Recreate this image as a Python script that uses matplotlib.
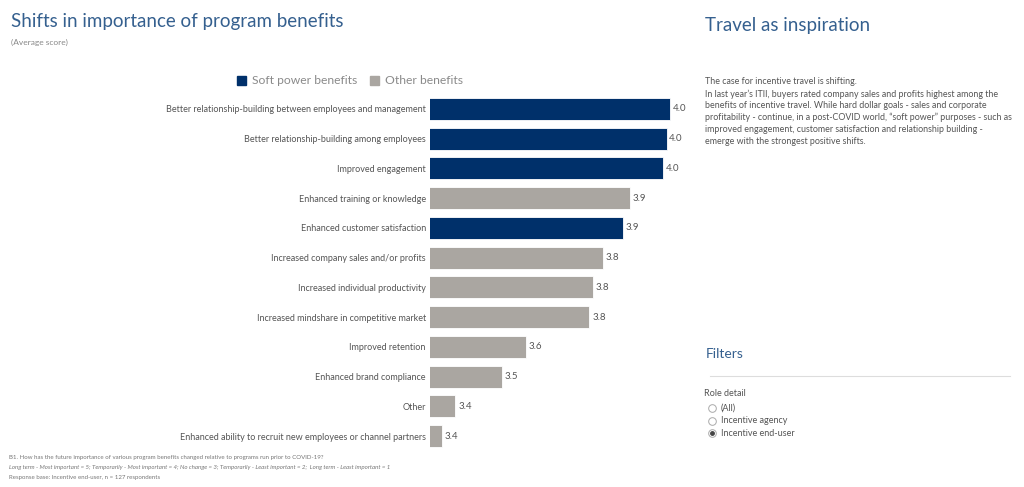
import matplotlib.pyplot as plt
from matplotlib.patches import Patch
from matplotlib.lines import Line2D

plt.rcParams['font.family'] = ['Lato', 'DejaVu Sans']

benefits = [
    "Better relationship-building between employees and management",
    "Better relationship-building among employees",
    "Improved engagement",
    "Enhanced training or knowledge",
    "Enhanced customer satisfaction",
    "Increased company sales and/or profits",
    "Increased individual productivity",
    "Increased mindshare in competitive market",
    "Improved retention",
    "Enhanced brand compliance",
    "Other",
    "Enhanced ability to recruit new employees or channel partners",
]
scores = [4.04, 4.03, 4.02, 3.92, 3.90, 3.84, 3.81, 3.80, 3.61, 3.54, 3.40, 3.36]
soft_power = [True, True, True, False, True, False, False, False, False, False, False, False]

navy = '#00306a'
grey = '#aaa6a1'
text_grey = '#555555'
title_blue = '#35608f'

fig = plt.figure(figsize=(10.24, 4.87), dpi=100)
ax = fig.add_axes([430 / 1024, 1 - 451 / 487, 260 / 1024, 357 / 487])

y = list(range(len(benefits)))
colors = [navy if s else grey for s in soft_power]
ax.barh(y, scores, height=0.74, color=colors, edgecolor='white', linewidth=0.6)
for yi, v in zip(y, scores):
    ax.text(v + 0.008, yi, f"{v:.1f}", va='center', ha='left', fontsize=7, color=text_grey)

ax.set_xlim(3.324, 4.10)
ax.set_ylim(len(benefits) - 0.5, -0.5)
ax.set_yticks(y)
ax.set_yticklabels(benefits, fontsize=6.5, color=text_grey)
ax.tick_params(axis='y', length=0, pad=3)
ax.set_xticks([])
for s in ax.spines.values():
    s.set_visible(False)

# titles
fig.text(11 / 1024, 1 - 21 / 487, "Shifts in importance of program benefits",
         fontsize=13.5, color=title_blue, va='center', ha='left')
fig.text(11 / 1024, 1 - 42 / 487, "(Average score)", fontsize=6, color='#888888',
         va='center', ha='left')

handles = [Patch(color=navy), Patch(color=grey)]
fig.legend(handles, ["Soft power benefits", "Other benefits"], loc='center',
           bbox_to_anchor=(350 / 1024, 1 - 81 / 487), ncol=2, frameon=False,
           fontsize=8.7, labelcolor='#8a8a8a', handlelength=0.8, handleheight=0.8,
           handletextpad=0.5, columnspacing=1.0)

# right panel
fig.text(705 / 1024, 1 - 25 / 487, "Travel as inspiration", fontsize=13.5,
         color=title_blue, va='center', ha='left')
body = [
    "The case for incentive travel is shifting.",
    "In last year\u2019s ITII, buyers rated company sales and profits highest among the",
    "benefits of incentive travel. While hard dollar goals - sales and corporate",
    "profitability - continue, in a post-COVID world, \u201csoft power\u201d purposes - such as",
    "improved engagement, customer satisfaction and relationship building -",
    "emerge with the strongest positive shifts.",
]
for i, line in enumerate(body):
    fig.text(705 / 1024, 1 - (82 + i * 11.8) / 487, line, fontsize=6.4,
             color=text_grey, va='center', ha='left')

fig.text(706 / 1024, 1 - 354 / 487, "Filters", fontsize=10, color=title_blue,
         va='center', ha='left')
fig.add_artist(Line2D([710 / 1024, 1010 / 1024], [1 - 376 / 487, 1 - 376 / 487],
                      color='#dddddd', linewidth=0.8))
fig.text(704 / 1024, 1 - 394 / 487, "Role detail", fontsize=6.5, color=text_grey,
         va='center', ha='left')
options = ["(All)", "Incentive agency", "Incentive end-user"]
selected = 2
for i, opt in enumerate(options):
    yy = 1 - (408 + i * 12.5) / 487
    fig.text(721 / 1024, yy, opt, fontsize=6.5, color=text_grey, va='center', ha='left')
    fig.add_artist(Line2D([712 / 1024], [yy], marker='o', markersize=5.5,
                          markerfacecolor='white', markeredgecolor='#aaaaaa',
                          markeredgewidth=0.7))
    if i == selected:
        fig.add_artist(Line2D([712 / 1024], [yy], marker='o', markersize=2.5,
                              color='#444444'))

# footnotes
notes = [
    ("B1. How has the future importance of various program benefits changed relative to programs run prior to COVID-19?", 'normal'),
    ("Long term - Most important = 5; Temporarily - Most important = 4; No change = 3; Temporarily - Least important = 2;  Long term - Least important = 1", 'italic'),
    ("Response base: Incentive end-user, n = 127 respondents", 'normal'),
]
for i, (t, st) in enumerate(notes):
    fig.text(9 / 1024, 1 - (458 + i * 9.7) / 487, t, fontsize=4.4, color='#777777',
             style=st, va='center', ha='left')

fig.savefig("out.png", dpi=100)
